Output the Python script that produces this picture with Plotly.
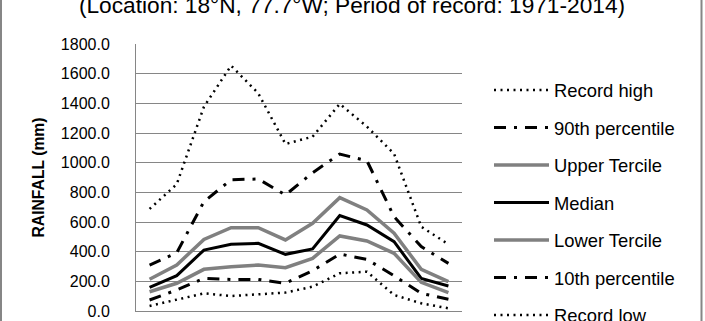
import plotly.graph_objects as go

months = ["Jan", "Feb", "Mar", "Apr", "May", "Jun", "Jul", "Aug", "Sep", "Oct", "Nov", "Dec"]
record_high = [688, 855, 1377, 1654, 1468, 1126, 1175, 1396, 1243, 1060, 568, 450]
pct90 = [310, 393, 737, 885, 890, 782, 932, 1058, 1013, 636, 434, 321]
upper_tercile = [214, 310, 483, 562, 562, 479, 591, 764, 681, 524, 281, 198]
median = [160, 238, 411, 450, 456, 382, 418, 643, 580, 467, 220, 169]
lower_tercile = [130, 187, 281, 299, 310, 292, 355, 506, 472, 389, 193, 124]
pct10 = [74, 142, 220, 213, 213, 187, 272, 384, 348, 238, 119, 79]
record_low = [34, 74, 119, 101, 112, 124, 164, 254, 265, 108, 52, 18]
y_ticks = [0, 200, 400, 600, 800, 1000, 1200, 1400, 1600, 1800]

series = [
    ("Record high", record_high, "black", 2.5, "2px,4.5px"),
    ("90th percentile", pct90, "black", 3, "12px,8px,3px,8px"),
    ("Upper Tercile", upper_tercile, "#808080", 3.5, "solid"),
    ("Median", median, "black", 3, "solid"),
    ("Lower Tercile", lower_tercile, "#808080", 3.5, "solid"),
    ("10th percentile", pct10, "black", 3, "12px,8px,3px,8px"),
    ("Record low", record_low, "black", 2.5, "2px,4.5px"),
]

fig = go.Figure()
for i, (name, vals, col, w, dash) in enumerate(series):
    fig.add_trace(go.Scatter(x=months, y=vals, name=name, mode="lines",
                             legendgroup=f"g{i}",
                             line=dict(color=col, width=w, dash=dash)))

fig.update_layout(
    width=705, height=321,
    margin=dict(l=136, r=243, t=44, b=10, autoexpand=False),
    paper_bgcolor="white", plot_bgcolor="white",
    font=dict(family="Liberation Sans", color="black"),
    title=dict(text="(Location: 18°N, 77.7°W; Period of record: 1971-2014)",
               x=352 / 705, xanchor="center", y=1 - 5 / 321, yanchor="middle",
               font=dict(size=22.7, color="black")),
    showlegend=True,
    legend=dict(x=(489 - 136) / 326, xanchor="left", y=(311 - 71.5) / 267, yanchor="top",
                font=dict(size=18.4), bgcolor="rgba(0,0,0,0)", maxheight=600,
                tracegroupgap=10.6, itemwidth=55, traceorder="grouped"),
    xaxis=dict(type="category", range=[-0.5, 11.5], showticklabels=False,
               showgrid=False, showline=True, linecolor="#868686", linewidth=1,
               ticks="", zeroline=False),
    yaxis=dict(range=[0, 1800], tickvals=y_ticks, tickformat=".1f",
               showgrid=True, gridcolor="#868686", gridwidth=1,
               showline=True, linecolor="#868686", linewidth=1, zeroline=False,
               ticks="", ticklabelstandoff=22, tickfont=dict(size=16),
               title=dict(text="<b>RAINFALL (mm)</b>", font=dict(size=15.7), standoff=12)),
    shapes=[
        dict(type="line", xref="paper", yref="paper", x0=(1 - 136) / 326, x1=(1 - 136) / 326,
             y0=-1, y1=2, line=dict(color="#868686", width=2)),
        dict(type="line", xref="paper", yref="paper", x0=(701.5 - 136) / 326, x1=(701.5 - 136) / 326,
             y0=-1, y1=2, line=dict(color="#868686", width=2)),
    ],
)

fig.write_html("out.html")
